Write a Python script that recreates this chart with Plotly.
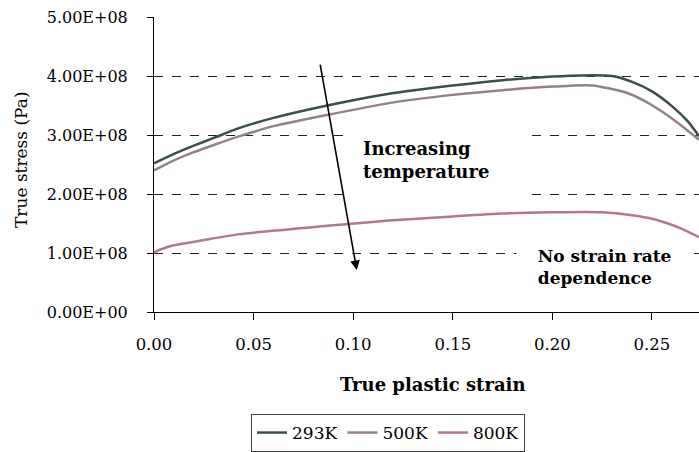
import plotly.graph_objects as go

# ---- data ----
strain_293 = [0.000, 0.010, 0.020, 0.030, 0.043, 0.060, 0.087, 0.118, 0.150, 0.175,
              0.200, 0.215, 0.230, 0.240, 0.250, 0.260, 0.268, 0.2736]
stress_293 = [2.52e8, 2.68e8, 2.82e8, 2.95e8, 3.12e8, 3.29e8, 3.50e8, 3.70e8, 3.84e8, 3.93e8,
              3.99e8, 4.01e8, 4.00e8, 3.90e8, 3.74e8, 3.49e8, 3.23e8, 2.98e8]

strain_500 = [0.000, 0.010, 0.020, 0.030, 0.043, 0.060, 0.087, 0.118, 0.150, 0.175,
              0.200, 0.220, 0.237, 0.245, 0.254, 0.264, 0.2736]
stress_500 = [2.40e8, 2.57e8, 2.71e8, 2.83e8, 2.98e8, 3.15e8, 3.34e8, 3.54e8, 3.68e8, 3.76e8,
              3.82e8, 3.84e8, 3.72e8, 3.60e8, 3.42e8, 3.18e8, 2.92e8]

strain_800 = [0.000, 0.005, 0.010, 0.025, 0.043, 0.087, 0.118, 0.150, 0.175, 0.200,
              0.225, 0.240, 0.250, 0.258, 0.265, 0.2736]
stress_800 = [1.01e8, 1.08e8, 1.13e8, 1.22e8, 1.32e8, 1.46e8, 1.55e8, 1.62e8, 1.67e8, 1.69e8,
              1.69e8, 1.64e8, 1.58e8, 1.50e8, 1.41e8, 1.27e8]

series_names = ["293K", "500K", "800K"]
y_tick_vals = [0, 1e8, 2e8, 3e8, 4e8, 5e8]
y_tick_text = ["0.00E+00", "1.00E+08", "2.00E+08", "3.00E+08", "4.00E+08", "5.00E+08"]

# arrow: start and tip in data units
arrow_tail = (0.0833, 4.22e8)
arrow_tip = (0.1018, 0.71e8)

FONT = "DejaVu Serif"
colors = ["#3b4f4a", "#94808a", "#b07a8c"]

W, H = 699, 452
ML, MR, MT, MB = 154, 0, 17, 140
PW, PH = W - ML - MR, H - MT - MB


def px_to_paper(px, py):
    return (px - ML) / PW, (H - MB - py) / PH


fig = go.Figure()
for (xs, ys), name, c in zip([(strain_293, stress_293), (strain_500, stress_500),
                              (strain_800, stress_800)], series_names, colors):
    fig.add_trace(go.Scatter(x=xs, y=ys, name=name, mode="lines",
                             line=dict(color=c, width=2.5, shape="spline", smoothing=0.6)))

fig.update_layout(
    width=W, height=H,
    margin=dict(l=ML, r=MR, t=MT, b=MB, autoexpand=False),
    plot_bgcolor="white", paper_bgcolor="white",
    font=dict(family=FONT, size=16, color="black"),
    showlegend=True,
    legend=dict(orientation="h", xref="container", yref="container",
                x=388 / W, xanchor="center", y=1 - 414 / H, yanchor="top",
                bordercolor="#444", borderwidth=1, bgcolor="white",
                font=dict(family=FONT, size=17), itemwidth=30,
                tracegroupgap=0),
)

fig.update_xaxes(range=[0, 0.2736], tickvals=[0, 0.05, 0.10, 0.15, 0.20, 0.25],
                 tickformat=".2f", showgrid=False, zeroline=False, automargin=False,
                 showline=True, linecolor="black", linewidth=1,
                 ticks="outside", ticklen=7, tickcolor="black",
                 ticklabelstandoff=10,
                 tickfont=dict(family=FONT, size=16.5))
fig.update_yaxes(range=[0, 5e8], tickvals=y_tick_vals, ticktext=y_tick_text,
                 showgrid=True, gridcolor="#222", griddash="dash", gridwidth=1,
                 zeroline=False, showline=True, linecolor="black", linewidth=1,
                 automargin=False,
                 ticks="outside", ticklen=6, tickcolor="black",
                 ticklabelstandoff=16,
                 tickfont=dict(family=FONT, size=16))

# axis titles as annotations for exact placement
tx, ty = px_to_paper(433, 384)
fig.add_annotation(text="<b>True plastic strain</b>", xref="paper", yref="paper",
                   x=tx, y=ty, xanchor="center", yanchor="middle",
                   showarrow=False, font=dict(family=FONT, size=18))
yx, yy = px_to_paper(21, 160)
fig.add_annotation(text="True stress (Pa)", xref="paper", yref="paper",
                   x=yx, y=yy, xanchor="center", yanchor="middle",
                   textangle=-90, showarrow=False, font=dict(family=FONT, size=17))

# text boxes (white background hides gridlines)
nb2 = "&nbsp;" * 4
fig.add_annotation(text="<b>Increasing<br>temperature" + nb2 + "</b>",
                   xref="x", yref="y",
                   x=0.1430, y=2.57e8, xanchor="center", yanchor="middle", align="left",
                   showarrow=False, bgcolor="white", borderpad=14,
                   font=dict(family=FONT, size=18))
nb = "&nbsp;" * 3
fig.add_annotation(text="<b>" + nb + "No strain rate" + nb + "<br>" + nb + "dependence</b>",
                   xref="x", yref="y",
                   x=0.2262, y=0.77e8, xanchor="center", yanchor="middle", align="left",
                   showarrow=False, bgcolor="white", borderpad=3,
                   font=dict(family=FONT, size=17))

# arrow
fig.add_annotation(x=arrow_tip[0], y=arrow_tip[1], ax=arrow_tail[0], ay=arrow_tail[1],
                   xref="x", yref="y", axref="x", ayref="y", text="",
                   showarrow=True, arrowhead=2, arrowsize=1.2, arrowwidth=1.6,
                   arrowcolor="black")

fig.write_html("out.html", config={"displayModeBar": False},
               post_script="document.body.style.margin='0';document.body.style.padding='0';")
